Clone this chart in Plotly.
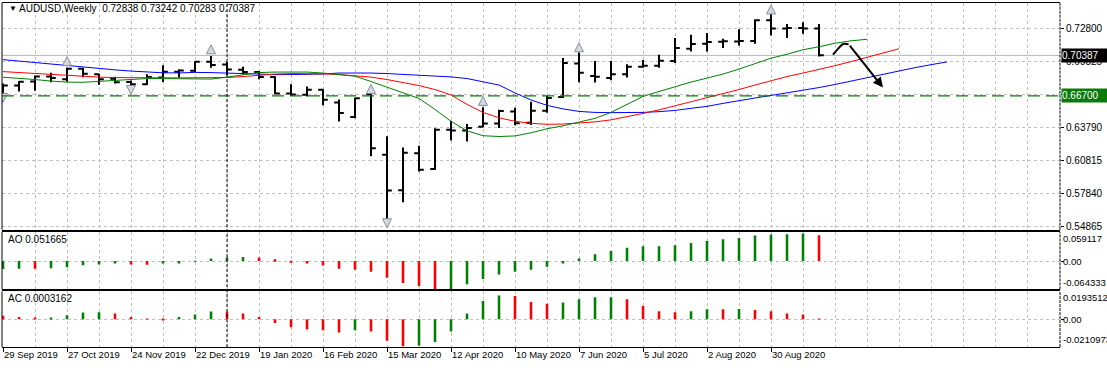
import plotly.graph_objects as go

W, H = 1107, 368
FONT = "Liberation Sans"

# ---------------- data ----------------
date_ticks = ["29 Sep 2019", "27 Oct 2019", "24 Nov 2019", "22 Dec 2019", "19 Jan 2020",
              "16 Feb 2020", "15 Mar 2020", "12 Apr 2020", "10 May 2020", "7 Jun 2020",
              "5 Jul 2020", "2 Aug 2020", "30 Aug 2020"]
date_tick_bars = [0, 4, 8, 12, 16, 20, 24, 28, 32, 36, 40, 44, 48]
year_separator_bar = 14  # 5 Jan 2020

opens = [0.6745, 0.6765, 0.6800, 0.6846, 0.6822, 0.6916, 0.6868, 0.6825, 0.6797, 0.6776,
         0.6837, 0.6890, 0.6898, 0.6981, 0.6955, 0.6908, 0.6888, 0.6842, 0.6692, 0.6680,
         0.6725, 0.6610, 0.6478, 0.6685, 0.6135, 0.5812, 0.6148, 0.6005, 0.6362, 0.6356,
         0.6390, 0.6418, 0.6528, 0.6425, 0.6535, 0.6660, 0.6965, 0.6850, 0.6832, 0.6867,
         0.6936, 0.6945, 0.6988, 0.7100, 0.7145, 0.7162, 0.7165, 0.7170, 0.7358, 0.7282,
         0.7288, 0.72838]
highs = [0.6783, 0.6805, 0.6855, 0.6880, 0.6928, 0.6925, 0.6872, 0.6845, 0.6810, 0.6868,
         0.6948, 0.6912, 0.6985, 0.7034, 0.6978, 0.6935, 0.6897, 0.6848, 0.6776, 0.6755,
         0.6731, 0.6637, 0.6654, 0.6703, 0.6303, 0.6201, 0.6216, 0.6376, 0.6445, 0.6415,
         0.6568, 0.6545, 0.6563, 0.6617, 0.6674, 0.7015, 0.7064, 0.6988, 0.6988, 0.6957,
         0.6996, 0.7045, 0.7196, 0.7226, 0.7241, 0.7190, 0.7277, 0.7368, 0.7416, 0.7325,
         0.7341, 0.73242]
lows = [0.6671, 0.6710, 0.6718, 0.6795, 0.6798, 0.6840, 0.6772, 0.6783, 0.6745, 0.6770,
        0.6796, 0.6837, 0.6888, 0.6925, 0.6861, 0.6868, 0.6822, 0.6686, 0.6670, 0.6665,
        0.6586, 0.6437, 0.6466, 0.6122, 0.5506, 0.5704, 0.5983, 0.5998, 0.6265, 0.6255,
        0.6387, 0.6378, 0.6403, 0.6406, 0.6518, 0.6650, 0.6794, 0.6793, 0.6813, 0.6837,
        0.6927, 0.6925, 0.6970, 0.7075, 0.7075, 0.7105, 0.7129, 0.7144, 0.7219, 0.7196,
        0.7235, 0.70283]
closes = [0.6765, 0.6798, 0.6846, 0.6832, 0.6918, 0.6872, 0.6822, 0.6794, 0.6776, 0.6843,
          0.6890, 0.6900, 0.6981, 0.6952, 0.6910, 0.6888, 0.6843, 0.6692, 0.6683, 0.6725,
          0.6635, 0.6515, 0.6648, 0.6194, 0.5810, 0.6153, 0.5999, 0.6363, 0.6356, 0.6378,
          0.6418, 0.6532, 0.6421, 0.6535, 0.6650, 0.6970, 0.6880, 0.6845, 0.6867, 0.6936,
          0.6945, 0.6990, 0.7105, 0.7142, 0.7160, 0.7166, 0.7170, 0.7358, 0.7282, 0.7288,
          0.7284, 0.70387]

# Alligator (values at each bar position, incl. forward shift)
jaw = [0.7000, 0.6986, 0.6975, 0.6963, 0.6948, 0.6934, 0.6918, 0.6907, 0.6896, 0.6887,
       0.6880, 0.6879, 0.6884, 0.6882, 0.6878, 0.6869, 0.6864, 0.6864, 0.6864, 0.6864,
       0.6869, 0.6878, 0.6879, 0.6878, 0.6873, 0.6866, 0.6858, 0.6850, 0.6843, 0.6828,
       0.6801, 0.6769, 0.6697, 0.6633, 0.6584, 0.6552, 0.6529, 0.6520, 0.6518, 0.6518,
       0.6520, 0.6527, 0.6538, 0.6557, 0.6575, 0.6602, 0.6629, 0.6651, 0.6674, 0.6697,
       0.6719, 0.6746, 0.6774, 0.6805, 0.6837, 0.6869, 0.6900, 0.6927, 0.6954, 0.6979]
teeth = [0.6891, 0.6882, 0.6873, 0.6864, 0.6855, 0.6848, 0.6841, 0.6837, 0.6834, 0.6834,
         0.6834, 0.6834, 0.6834, 0.6832, 0.6837, 0.6846, 0.6859, 0.6869, 0.6873, 0.6873,
         0.6871, 0.6864, 0.6855, 0.6841, 0.6819, 0.6792, 0.6764, 0.6728, 0.6679, 0.6593,
         0.6520, 0.6471, 0.6439, 0.6421, 0.6412, 0.6414, 0.6421, 0.6434, 0.6452, 0.6480,
         0.6511, 0.6543, 0.6579, 0.6615, 0.6651, 0.6688, 0.6728, 0.6769, 0.6810, 0.6846,
         0.6878, 0.6909, 0.6945, 0.6982, 0.7022, 0.7063, 0.7099]
lips = [0.6840, 0.6831, 0.6819, 0.6805, 0.6796, 0.6794, 0.6803, 0.6814, 0.6825, 0.6828,
        0.6828, 0.6828, 0.6823, 0.6823, 0.6841, 0.6864, 0.6882, 0.6887, 0.6888, 0.6887,
        0.6878, 0.6864, 0.6850, 0.6801, 0.6751, 0.6701, 0.6647, 0.6547, 0.6439, 0.6353,
        0.6308, 0.6301, 0.6306, 0.6335, 0.6371, 0.6398, 0.6430, 0.6466, 0.6520, 0.6593,
        0.6665, 0.6710, 0.6755, 0.6796, 0.6832, 0.6869, 0.6914, 0.6963, 0.7013, 0.7049,
        0.7090, 0.7117, 0.7149, 0.7171, 0.7185]

fractal_up_bars = [4, 13, 23, 30, 36, 48]
fractal_up_prices = [0.7027, 0.7135, 0.6774, 0.6665, 0.7153, 0.7497]
fractal_dn_bars = [0, 8, 24]
fractal_dn_prices = [0.6611, 0.6683, 0.5471]

support_level = 0.66700

# hand-drawn forecast arrow (bar index, price)
arrow_curve_x = [51.875, 52.2, 52.5, 52.85]
arrow_curve_y = [0.7045, 0.7100, 0.7142, 0.7140]
arrow_head = (55.0, 0.6746)

ao_before = -0.0175
ao = [-0.0160, -0.0153, -0.0155, -0.0146, -0.0125, -0.0083, -0.0069, -0.0049, -0.0069, -0.0072,
      -0.0050, -0.0047, 0.0005, 0.0050, 0.0077, 0.0080, 0.0072, 0.0033, -0.0028, -0.0049,
      -0.0090, -0.0153, -0.0174, -0.0215, -0.0334, -0.0438, -0.0500, -0.0570, -0.0565, -0.0466,
      -0.0361, -0.0271, -0.0215, -0.0174, -0.0113, -0.0050, 0.0050, 0.0136, 0.0200, 0.0265,
      0.0294, 0.0297, 0.0315, 0.0358, 0.0401, 0.0437, 0.0458, 0.0508, 0.0530, 0.0534,
      0.0551, 0.051665]
ac_before = 0.0030
ac = [0.0025, 0.0015, 0.0007, 0.0009, 0.0028, 0.0048, 0.0049, 0.0040, 0.0015, 0.0003,
      -0.0002, 0.0015, 0.0033, 0.0055, 0.0053, 0.0040, 0.0015, -0.0028, -0.0058, -0.0073,
      -0.0080, -0.0095, -0.0080, -0.0088, -0.0155, -0.0193, -0.0188, -0.0163, -0.0088, 0.0040,
      0.0130, 0.0170, 0.0167, 0.0123, 0.0110, 0.0119, 0.0142, 0.0157, 0.0158, 0.0142,
      0.0095, 0.0057, 0.0049, 0.0057, 0.0072, 0.0071, 0.0073, 0.0065, 0.0057, 0.0041,
      0.0034, 0.0003162]

main_tickvals = [0.72800, 0.69825, 0.66808, 0.63790, 0.60815, 0.57840, 0.54865]
main_ticktext = ["0.72800", "0.69825", "", "0.63790", "0.60815", "0.57840", "0.54865"]
ao_labels = ["0.059117", "0.00", "-0.064333"]
ac_labels = ["0.0193512", "0.00", "-0.0210973"]

# ---------------- helpers / layout geometry ----------------
def px_x(p):
    return p / W

def px_y(p):
    return 1 - p / H

GREEN = "#008000"
RED = "#FF0000"
GRID = "#C0C0C0"
GRID_DASH = "3px,3px"

def updown_colors(vals, before):
    out = []
    prev = before
    for v in vals:
        out.append(GREEN if v > prev else RED)
        prev = v
    return out

n = len(opens)
bars = list(range(n))

fig = go.Figure()

fig.add_trace(go.Ohlc(
    x=bars, open=opens, high=highs, low=lows, close=closes,
    increasing=dict(line=dict(color="black", width=2)),
    decreasing=dict(line=dict(color="black", width=2)),
    tickwidth=0.3, xaxis="x", yaxis="y", showlegend=False, hoverinfo="skip"))

for series, col in ((jaw, "#0000FF"), (teeth, "#FF0000"), (lips, "#008000")):
    fig.add_trace(go.Scatter(x=list(range(len(series))), y=series, mode="lines",
                             line=dict(color=col, width=1), xaxis="x", yaxis="y",
                             showlegend=False, hoverinfo="skip"))

fig.add_trace(go.Scatter(x=fractal_up_bars, y=fractal_up_prices, mode="markers",
                         marker=dict(symbol="arrow-up", size=9, color="#D4D8E0",
                                     line=dict(color="#8890A0", width=1)),
                         xaxis="x", yaxis="y", showlegend=False, hoverinfo="skip"))
fig.add_trace(go.Scatter(x=fractal_dn_bars, y=fractal_dn_prices, mode="markers",
                         marker=dict(symbol="arrow-down", size=9, color="#D4D8E0",
                                     line=dict(color="#8890A0", width=1)),
                         xaxis="x", yaxis="y", showlegend=False, hoverinfo="skip"))

fig.add_trace(go.Scatter(x=arrow_curve_x, y=arrow_curve_y, mode="lines",
                         line=dict(color="black", width=2, shape="spline"),
                         xaxis="x", yaxis="y", showlegend=False, hoverinfo="skip"))

fig.add_trace(go.Bar(x=bars, y=ao, marker=dict(color=updown_colors(ao, ao_before), line=dict(width=0)),
                     width=0.16, xaxis="x2", yaxis="y2", showlegend=False, hoverinfo="skip"))
fig.add_trace(go.Bar(x=bars, y=ac, marker=dict(color=updown_colors(ac, ac_before), line=dict(width=0)),
                     width=0.16, xaxis="x3", yaxis="y3", showlegend=False, hoverinfo="skip"))

# geometry (pixels)
X_LEFT, X_RIGHT = 2, 1060
BAR0_PX, BAR_STEP = 3, 16
xr = [(X_LEFT - BAR0_PX) / BAR_STEP, (X_RIGHT - BAR0_PX) / BAR_STEP]
MAIN_TOP, MAIN_BOT = 3, 231
AO_TOP, AO_BOT = 233, 291
AC_TOP, AC_BOT = 293, 349
main_range = [0.54530, 0.75151]
ao_range = [-0.0567, 0.0585]     # zero near y=262.5
ac_range = [-0.0200, 0.0199]     # zero near y=321

tickfont = dict(family=FONT, size=10, color="black")
subfont = dict(family=FONT, size=9.5, color="black")

common_x = dict(domain=[px_x(X_LEFT), px_x(X_RIGHT)], range=xr, showticklabels=False,
                tick0=0, dtick=2, showgrid=True, gridcolor=GRID, griddash=GRID_DASH, gridwidth=1,
                zeroline=False, showline=True, linecolor="black", linewidth=1, mirror=True,
                ticks="", fixedrange=True)

fig.update_layout(
    width=W, height=H, margin=dict(l=0, r=0, t=0, b=0),
    paper_bgcolor="white", plot_bgcolor="white", showlegend=False, barmode="overlay",
    xaxis=dict(**common_x, anchor="y", rangeslider=dict(visible=False)),
    xaxis2=dict(**common_x, anchor="y2", matches="x"),
    xaxis3=dict(**{k: v for k, v in common_x.items() if k not in ("tick0", "dtick", "ticks")},
                anchor="y3", matches="x", tickmode="array", tickvals=date_tick_bars,
                ticks="outside", ticklen=4, tickcolor="black",
                minor=dict(tick0=0, dtick=2, showgrid=True, gridcolor=GRID, griddash=GRID_DASH,
                           ticks="")),
    yaxis=dict(domain=[px_y(MAIN_BOT), px_y(MAIN_TOP)], range=main_range, anchor="x", side="right",
               tickmode="array", tickvals=main_tickvals, ticktext=main_ticktext,
               ticks="outside", ticklen=3, tickcolor="black", tickfont=tickfont,
               showgrid=True, gridcolor=GRID, griddash=GRID_DASH, zeroline=False, showline=False,
               fixedrange=True),
    yaxis2=dict(domain=[px_y(AO_BOT), px_y(AO_TOP)], range=ao_range, anchor="x2", side="right",
                tickmode="array", tickvals=[0], showticklabels=False, ticks="outside", ticklen=3,
                tickcolor="black", showgrid=True, gridcolor=GRID, griddash=GRID_DASH,
                zeroline=False, showline=False, fixedrange=True),
    yaxis3=dict(domain=[px_y(AC_BOT), px_y(AC_TOP)], range=ac_range, anchor="x3", side="right",
                tickmode="array", tickvals=[0], showticklabels=False, ticks="outside", ticklen=3,
                tickcolor="black", showgrid=True, gridcolor=GRID, griddash=GRID_DASH,
                zeroline=False, showline=False, fixedrange=True),
)

shapes = []
for xa, ya in (("x", "y"), ("x2", "y2"), ("x3", "y3")):
    shapes.append(dict(type="line", xref=f"{xa} domain", yref=f"{ya} domain", x0=0, x1=0, y0=0, y1=1,
                       line=dict(color="black", width=1)))
    shapes.append(dict(type="line", xref=f"{xa} domain", yref=f"{ya} domain", x0=1, x1=1, y0=0, y1=1,
                       line=dict(color="black", width=1, dash="3px,1px")))
# bid line and support level
shapes.append(dict(type="line", xref="x domain", yref="y", x0=0, x1=1, y0=closes[-1], y1=closes[-1],
                   line=dict(color="#B4B4B4", width=1), layer="below"))
shapes.append(dict(type="line", xref="x domain", yref="y", x0=0, x1=1, y0=support_level, y1=support_level,
                   line=dict(color=GREEN, width=1.3, dash="12px,6px")))
# yearly period separator
shapes.append(dict(type="line", xref="x", yref="paper", x0=year_separator_bar, x1=year_separator_bar,
                   y0=px_y(AC_BOT), y1=px_y(MAIN_TOP), line=dict(color="black", width=1, dash="3px,2px")))
fig.update_layout(shapes=shapes)

lblfont = dict(family=FONT, size=10, color="black")
ann = []
ann.append(dict(x=px_x(7), y=px_y(9), xref="paper", yref="paper", text="\u25bc", showarrow=False,
                xanchor="left", yanchor="middle", font=dict(family=FONT, size=8, color="black")))
title = "AUDUSD,Weekly\u00a0 {:.5f} {:.5f} {:.5f} {:.5f}".format(opens[-1], highs[-1], lows[-1], closes[-1])
ann.append(dict(x=px_x(17), y=px_y(9), xref="paper", yref="paper", text=title, showarrow=False,
                xanchor="left", yanchor="middle", font=lblfont))
ann.append(dict(x=px_x(6), y=px_y(241), xref="paper", yref="paper", text="AO {:.6f}".format(ao[-1]),
                showarrow=False, xanchor="left", yanchor="middle", font=lblfont))
ann.append(dict(x=px_x(6), y=px_y(300), xref="paper", yref="paper", text="AC {:.7f}".format(ac[-1]),
                showarrow=False, xanchor="left", yanchor="middle", font=lblfont))
for txt, ypx in zip(ao_labels, (240, 262.5, 284)):
    ann.append(dict(x=px_x(1061), y=px_y(ypx), xref="paper", yref="paper", text=txt, showarrow=False,
                    xanchor="left", yanchor="middle", font=subfont))
for txt, ypx in zip(ac_labels, (299, 321, 341)):
    ann.append(dict(x=px_x(1061), y=px_y(ypx), xref="paper", yref="paper", text=txt, showarrow=False,
                    xanchor="left", yanchor="middle", font=subfont))
# price boxes
ann.append(dict(x=px_x(1061), y=closes[-1], xref="paper", yref="y", text="{:.5f}".format(closes[-1]),
                showarrow=False, xanchor="left", yanchor="middle", bgcolor="black", width=46, height=13,
                align="left", borderpad=0, font=dict(family=FONT, size=10, color="white")))
ann.append(dict(x=px_x(1061), y=support_level, xref="paper", yref="y", text="{:.5f}".format(support_level),
                showarrow=False, xanchor="left", yanchor="middle", bgcolor="#0A7A0A", width=46, height=13,
                align="left", borderpad=0, font=dict(family=FONT, size=10, color="white")))
# date labels
for b, txt in zip(date_tick_bars, date_ticks):
    ann.append(dict(x=b, y=px_y(356), xref="x3", yref="paper", text=txt, showarrow=False,
                    xanchor="left", yanchor="middle", xshift=-1, font=dict(family=FONT, size=9.5, color="black")))
# forecast arrow head
ann.append(dict(x=arrow_head[0], y=arrow_head[1], ax=arrow_curve_x[-1], ay=arrow_curve_y[-1],
                xref="x", yref="y", axref="x", ayref="y", text="", showarrow=True,
                arrowhead=2, arrowsize=1, arrowwidth=2, arrowcolor="black"))
fig.update_layout(annotations=ann)

fig.write_html("out.html", config={"displayModeBar": False},
               post_script="document.body.style.margin='0';document.body.style.padding='0';"
                           "document.documentElement.style.overflow='hidden';")
